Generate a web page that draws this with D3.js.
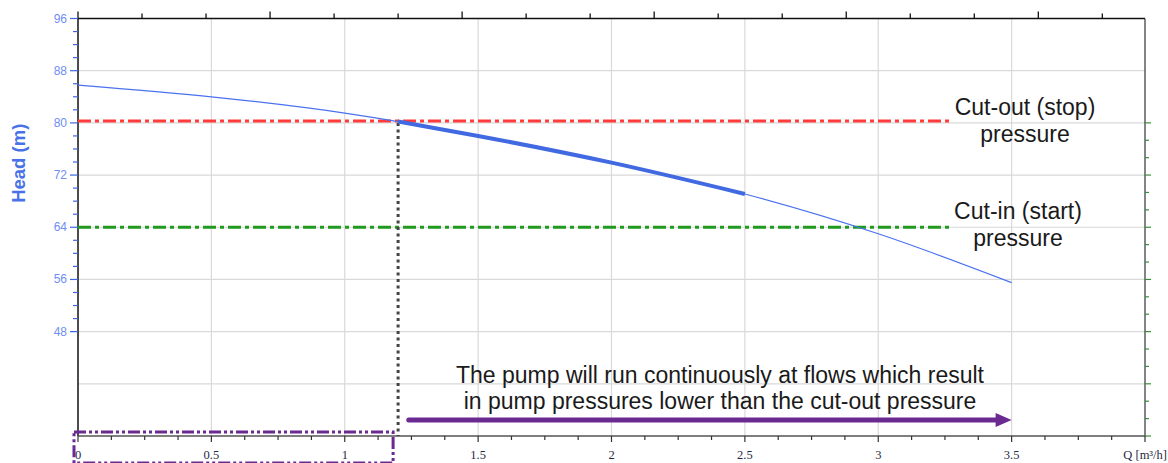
<!DOCTYPE html>
<html>
<head>
<meta charset="utf-8">
<script src="https://cdn.jsdelivr.net/npm/d3@7"></script>
<style>
  html, body { margin: 0; padding: 0; background: #fff; }
  svg { display: block; }
</style>
</head>
<body>
<svg id="chart" width="1168" height="463"></svg>
<script>
// ---------------- data ----------------
const flowQ   = [0, 0.5, 1.0, 1.5, 2.0, 2.5, 3.0, 3.5];          // m³/h
const headH   = [85.8, 84.0, 81.5, 78.0, 73.9, 69.1, 63.0, 55.5];  // m
const boldQ   = [1.2, 1.5, 2.0, 2.5];
const boldH   = [80.2, 78.0, 73.9, 69.1];
const cutOutHead = 80.3;
const cutInHead  = 64;
const cutQ       = 1.2;
const refLineEndQ = 3.27;
const xTickVals  = [0, 0.5, 1, 1.5, 2, 2.5, 3, 3.5];
const xTickLabels = ["0", "0.5", "1", "1.5", "2", "2.5", "3", "3.5"];
const yTickVals  = [96, 88, 80, 72, 64, 56, 48];
const yGridVals  = [96, 88, 80, 72, 64, 56, 48, 40];
const topTickLpm = [0, 4, 8, 12, 16, 20, 24, 28, 32, 36, 40, 44, 48, 52, 56, 60, 64];
const annotationLines = [
  "The pump will run continuously at flows which result",
  "in pump pressures lower than the cut-out pressure"
];
const cutOutLabel = ["Cut-out (stop)", "pressure"];
const cutInLabel  = ["Cut-in (start)", "pressure"];
const arrowFromQ = 1.24, arrowToQ = 3.5, arrowHead = 34.45;

// ---------------- scales ----------------
const svg = d3.select("#chart");
const x = d3.scaleLinear().domain([0, 4]).range([78, 1145]);
const y = d3.scaleLinear().domain([32, 96]).range([436, 18.5]);
const xTop = d3.scaleLinear().domain([0, 4 * 1000 / 60]).range([78, 1145]);

const sans = "'Liberation Sans', Arial, sans-serif";
const serif = "'Liberation Serif', 'Times New Roman', serif";

// grid
svg.append("g").selectAll("line").data(yGridVals).join("line")
  .attr("x1", x(0)).attr("x2", x(4))
  .attr("y1", d => y(d)).attr("y2", d => y(d))
  .attr("stroke", "#d9d9d9").attr("stroke-width", 1.2);
svg.append("g").selectAll("line").data(xTickVals.filter(d => d > 0)).join("line")
  .attr("x1", d => x(d)).attr("x2", d => x(d))
  .attr("y1", y(96)).attr("y2", y(32))
  .attr("stroke", "#d9d9d9").attr("stroke-width", 1.2);

// frame
svg.append("line").attr("x1", x(0)).attr("x2", x(4)).attr("y1", y(96)).attr("y2", y(96))
  .attr("stroke", "#111").attr("stroke-width", 1.5);
svg.append("line").attr("x1", x(4)).attr("x2", x(4)).attr("y1", y(96)).attr("y2", y(32))
  .attr("stroke", "#333").attr("stroke-width", 1.2);

// top ticks (l/min)
svg.append("g").selectAll("line").data(topTickLpm).join("line")
  .attr("x1", d => xTop(d)).attr("x2", d => xTop(d))
  .attr("y1", y(96)).attr("y2", d => y(96) - (d % 12 === 0 ? 7 : 5))
  .attr("stroke", "#111").attr("stroke-width", 1.3);

// right green ticks
const rightTicks = d3.range(0, 19).map(i => 80 - i * 8 / 3);
svg.append("g").selectAll("line").data(rightTicks).join("line")
  .attr("x1", x(4)).attr("x2", (d, i) => x(4) + (i % 3 === 0 ? 6 : 4))
  .attr("y1", d => y(d)).attr("y2", d => y(d))
  .attr("stroke", "#3a8f3a").attr("stroke-width", 1.2);

// left axis
svg.append("line").attr("x1", x(0)).attr("x2", x(0)).attr("y1", y(96)).attr("y2", y(32))
  .attr("stroke", "#111").attr("stroke-width", 1.5);
const yMinor = d3.range(48, 97, 2).filter(d => d % 8 !== 0);
svg.append("g").selectAll("line").data(yMinor).join("line")
  .attr("x1", x(0) - 5).attr("x2", x(0))
  .attr("y1", d => y(d)).attr("y2", d => y(d))
  .attr("stroke", "#3f66e0").attr("stroke-width", 1.2);
svg.append("g").selectAll("line").data(yTickVals).join("line")
  .attr("x1", x(0) - 8).attr("x2", x(0))
  .attr("y1", d => y(d)).attr("y2", d => y(d))
  .attr("stroke", "#3f66e0").attr("stroke-width", 1.2);
svg.append("g").selectAll("text").data(yTickVals).join("text")
  .attr("x", x(0) - 11).attr("y", d => y(d) + 4)
  .attr("text-anchor", "end").attr("font-family", sans).attr("font-size", 12)
  .attr("fill", "#6f8ef2").text(d => d);
svg.append("text")
  .attr("transform", `translate(25,${(y(96) + y(32)) / 2 - 64}) rotate(-90)`)
  .attr("text-anchor", "middle").attr("font-family", sans).attr("font-size", 18.5)
  .attr("font-weight", "bold").attr("fill", "#4a72e8").text("Head (m)");

// bottom axis
svg.append("line").attr("x1", x(0)).attr("x2", x(4)).attr("y1", y(32)).attr("y2", y(32))
  .attr("stroke", "#555").attr("stroke-width", 1.5);
const xMinor = d3.range(0, 4.001, 0.125).filter(d => Math.abs(d * 2 - Math.round(d * 2)) > 1e-6);
svg.append("g").selectAll("line").data(xMinor).join("line")
  .attr("x1", d => x(d)).attr("x2", d => x(d))
  .attr("y1", y(32)).attr("y2", y(32) + 4)
  .attr("stroke", "#333").attr("stroke-width", 1.2);
svg.append("g").selectAll("line").data(xTickVals.concat([4])).join("line")
  .attr("x1", d => x(d)).attr("x2", d => x(d))
  .attr("y1", y(32)).attr("y2", y(32) + 6)
  .attr("stroke", "#333").attr("stroke-width", 1.2);
svg.append("g").selectAll("text").data(xTickVals).join("text")
  .attr("x", d => x(d)).attr("y", 459)
  .attr("text-anchor", "middle").attr("font-family", serif).attr("font-size", 12.5)
  .attr("fill", "#1f2a44").text((d, i) => xTickLabels[i]);
svg.append("text").attr("x", 1167).attr("y", 459).attr("text-anchor", "end")
  .attr("font-family", serif).attr("font-size", 12.5).attr("fill", "#1f2a44")
  .text("Q [m³/h]");

// reference lines
svg.append("line").attr("x1", x(0)).attr("x2", x(refLineEndQ))
  .attr("y1", y(cutOutHead)).attr("y2", y(cutOutHead))
  .attr("stroke", "#ff3b3b").attr("stroke-width", 3).attr("stroke-dasharray", "13,4,4,4");
svg.append("line").attr("x1", x(0)).attr("x2", x(refLineEndQ))
  .attr("y1", y(cutInHead)).attr("y2", y(cutInHead))
  .attr("stroke", "#1f9a1f").attr("stroke-width", 3).attr("stroke-dasharray", "13,4,4,4");

// dotted vertical
svg.append("line").attr("x1", x(cutQ)).attr("x2", x(cutQ))
  .attr("y1", y(cutOutHead) + 2).attr("y2", y(32))
  .attr("stroke", "#444").attr("stroke-width", 3).attr("stroke-dasharray", "3,3.5");

// pump curve
const line = d3.line().x(d => x(d[0])).y(d => y(d[1])).curve(d3.curveMonotoneX);
svg.append("path").datum(flowQ.map((q, i) => [q, headH[i]]))
  .attr("d", line).attr("fill", "none").attr("stroke", "#4a72ee").attr("stroke-width", 1.2);
svg.append("path").datum(boldQ.map((q, i) => [q, boldH[i]]))
  .attr("d", line).attr("fill", "none").attr("stroke", "#4169e1").attr("stroke-width", 4);

// purple box
svg.append("rect")
  .attr("x", x(0) - 4).attr("y", y(32) - 4)
  .attr("width", x(cutQ) - x(0) - 1).attr("height", 31)
  .attr("fill", "none").attr("stroke", "#6a2a91").attr("stroke-width", 3)
  .attr("stroke-dasharray", "12,3,3,3,3,3");

// arrow
const ay = y(arrowHead);
svg.append("line").attr("x1", x(arrowFromQ)).attr("x2", x(arrowToQ) - 14)
  .attr("y1", ay).attr("y2", ay)
  .attr("stroke", "#6a2a91").attr("stroke-width", 5).attr("stroke-linecap", "round");
svg.append("path")
  .attr("d", `M${x(arrowToQ)},${ay} L${x(arrowToQ) - 16},${ay - 7} L${x(arrowToQ) - 16},${ay + 7} Z`)
  .attr("fill", "#6a2a91");

// texts
const tfont = 23;
svg.append("g").selectAll("text").data(annotationLines).join("text")
  .attr("x", 720).attr("y", (d, i) => 383 + i * 26)
  .attr("text-anchor", "middle").attr("font-family", sans).attr("font-size", tfont)
  .attr("fill", "#1a1a1a").text(d => d);
svg.append("g").selectAll("text").data(cutOutLabel).join("text")
  .attr("x", 1025).attr("y", (d, i) => 115 + i * 27)
  .attr("text-anchor", "middle").attr("font-family", sans).attr("font-size", tfont)
  .attr("fill", "#1a1a1a").text(d => d);
svg.append("g").selectAll("text").data(cutInLabel).join("text")
  .attr("x", 1018).attr("y", (d, i) => 219 + i * 27)
  .attr("text-anchor", "middle").attr("font-family", sans).attr("font-size", tfont)
  .attr("fill", "#1a1a1a").text(d => d);
</script>
</body>
</html>
